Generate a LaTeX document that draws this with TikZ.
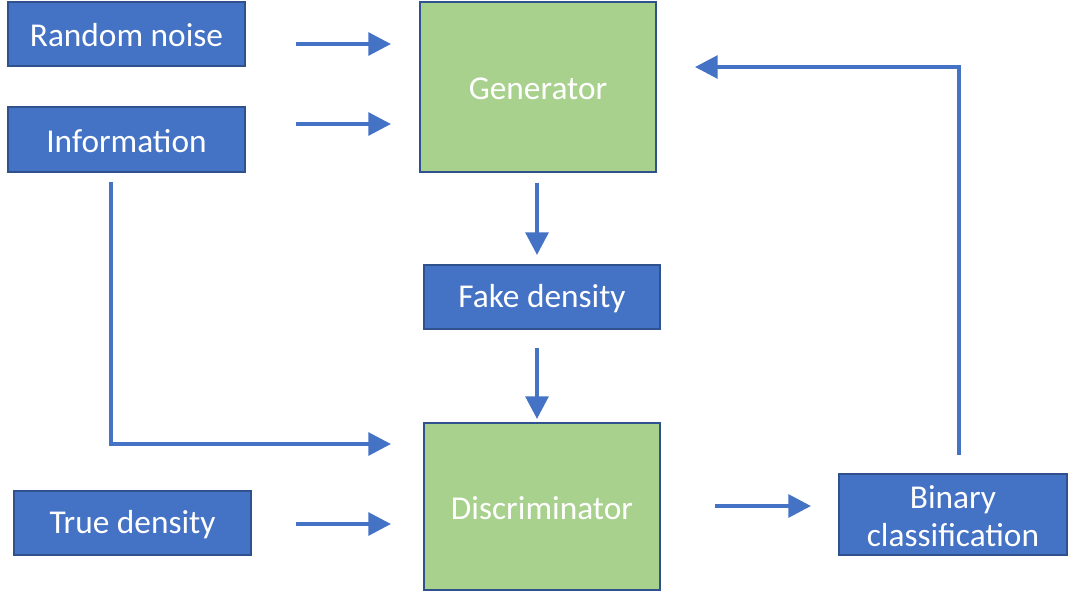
\documentclass[tikz,border=0pt]{standalone}
\usepackage{fontspec}
\setmainfont{Carlito}
\usetikzlibrary{arrows.meta}
\definecolor{boxblue}{HTML}{4472C4}
\definecolor{boxedge}{HTML}{2F528F}
\definecolor{boxgreen}{HTML}{A9D18E}
\definecolor{arrowblue}{HTML}{4472C4}
\begin{document}
\begin{tikzpicture}[x=0.75pt,y=-0.75pt,
  bluebox/.style={draw=boxedge,line width=1pt,fill=boxblue,text=white,font=\fontsize{25}{28.5}\selectfont,align=center,inner sep=0pt},
  greenbox/.style={draw=boxedge,line width=1pt,fill=boxgreen,text=white,font=\fontsize{25}{28.5}\selectfont,align=center,inner sep=0pt},
  flow/.style={draw=arrowblue,line width=3pt,-{Triangle[length=17pt,width=17pt]}}]
\useasboundingbox (0,0) rectangle (1068,594);
\path[bluebox] (8,2) rectangle (245,66) node[midway,draw=none,yshift=-1pt] (rn) {Random noise};
\path[bluebox] (8,107) rectangle (245,172) node[midway,draw=none,yshift=-1pt] (info) {Information};
\path[greenbox] (420,2) rectangle (656,172) node[midway,draw=none,yshift=-1pt] (gen) {Generator};
\path[bluebox] (424,265) rectangle (660,329) node[midway,draw=none,yshift=-1pt] (fake) {Fake density};
\path[greenbox] (424,423) rectangle (660,590) node[midway,draw=none,yshift=-1pt] (disc) {Discriminator};
\path[bluebox] (14,491) rectangle (251,555) node[midway,draw=none,yshift=-1pt] (true) {True density};
\path[bluebox] (839,474) rectangle (1067,555) node[midway,draw=none,align=center,yshift=-1pt] (bin) {Binary\\classification};
\coordinate (a1s) at (296,44); \coordinate (a1e) at (391,44);
\coordinate (a2s) at (296,124); \coordinate (a2e) at (391,124);
\coordinate (a3s) at (537,183); \coordinate (a3e) at (537,255);
\coordinate (a4s) at (537,348); \coordinate (a4e) at (537,419);
\coordinate (a5s) at (111,182); \coordinate (a5c) at (111,444); \coordinate (a5e) at (391,444);
\coordinate (a6s) at (296,524); \coordinate (a6e) at (391,524);
\coordinate (a7s) at (715,506); \coordinate (a7e) at (811,506);
\coordinate (a8s) at (959,455); \coordinate (a8c) at (959,67); \coordinate (a8e) at (695,67);
\draw[flow] (a1s) -- (a1e);
\draw[flow] (a2s) -- (a2e);
\draw[flow] (a3s) -- (a3e);
\draw[flow] (a4s) -- (a4e);
\draw[flow] (a5s) -- (a5c) -- (a5e);
\draw[flow] (a6s) -- (a6e);
\draw[flow] (a7s) -- (a7e);
\draw[flow] (a8s) -- (a8c) -- (a8e);
\end{tikzpicture}
\end{document}
